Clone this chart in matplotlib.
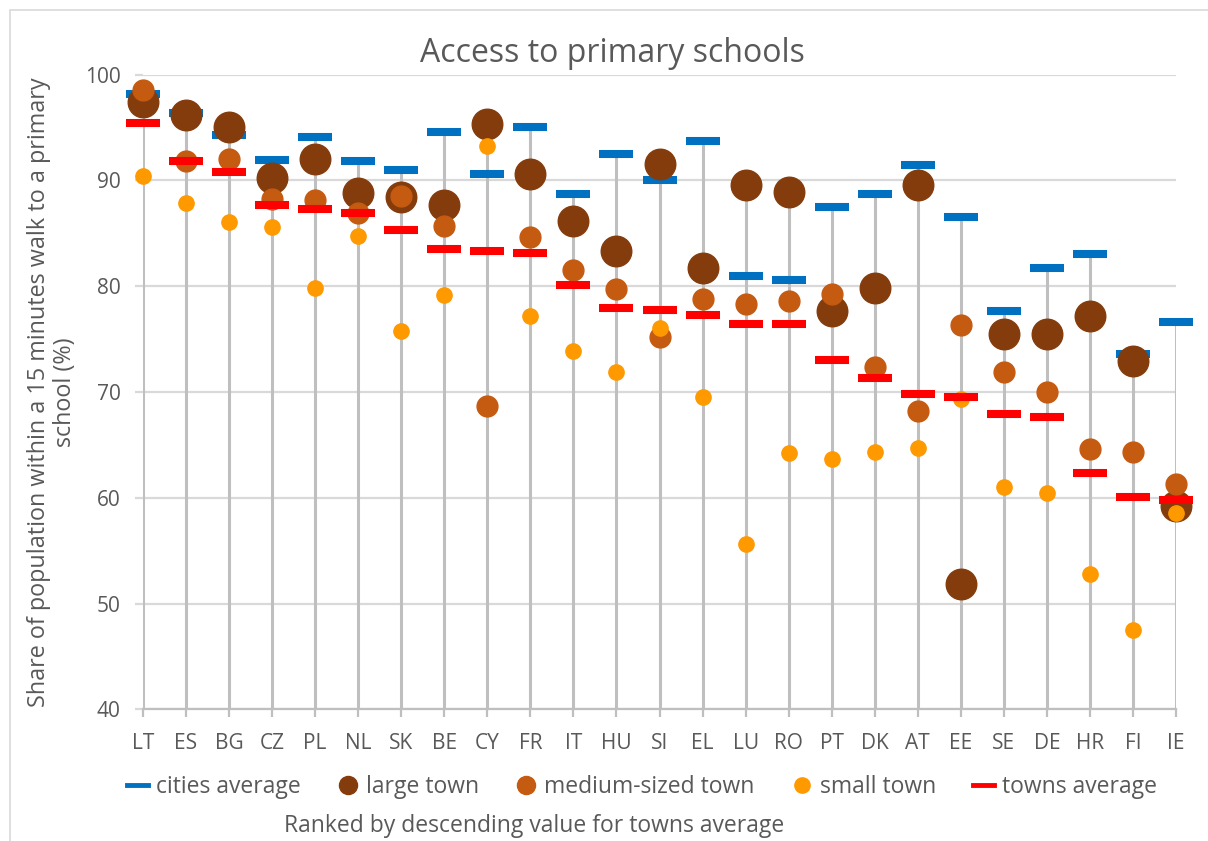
import numpy as np
import matplotlib
matplotlib.use("Agg")
import matplotlib.pyplot as plt
from matplotlib.lines import Line2D
from matplotlib.patches import Rectangle

plt.rcParams['font.family'] = ['Open Sans', 'DejaVu Sans']

countries = ["LT", "ES", "BG", "CZ", "PL", "NL", "SK", "BE", "CY", "FR", "IT", "HU", "SI",
             "EL", "LU", "RO", "PT", "DK", "AT", "EE", "SE", "DE", "HR", "FI", "IE"]

cities_avg = [98.2, 96.4, 94.3, 91.9, 94.1, 91.8, 91.0, 94.6, 90.6, 95.0, 88.7, 92.5, 90.0,
              93.7, 81.0, 80.6, 87.5, 88.7, 91.4, 86.5, 77.6, 81.7, 83.0, 73.6, 76.6]
large_town = [97.4, 96.2, 95.0, 90.2, 92.0, 88.8, 88.4, 87.7, 95.3, 90.6, 86.2, 83.3, 91.5,
              81.7, 89.6, 88.9, 77.6, 79.8, 89.6, 51.8, 75.5, 75.5, 77.2, 72.9, 59.2]
medium_town = [98.5, 91.8, 92.0, 88.2, 88.1, 86.9, 88.5, 85.7, 68.7, 84.6, 81.5, 79.7, 75.2,
               78.8, 78.3, 78.6, 79.3, 72.4, 68.2, 76.3, 71.9, 70.0, 64.6, 64.3, 61.3]
small_town = [90.4, 87.9, 86.1, 85.6, 79.8, 84.7, 75.8, 79.2, 93.2, 77.2, 73.9, 71.9, 76.0,
              69.5, 55.6, 64.2, 63.7, 64.3, 64.7, 69.3, 61.0, 60.4, 52.8, 47.5, 58.6]
towns_avg = [95.4, 91.8, 90.8, 87.7, 87.3, 86.9, 85.3, 83.5, 83.3, 83.1, 80.1, 77.9, 77.7,
             77.3, 76.4, 76.4, 73.0, 71.3, 69.8, 69.5, 67.9, 67.6, 62.3, 60.1, 59.8]

C_BLUE = "#0070C0"
C_LARGE = "#843C0C"
C_MED = "#C55A11"
C_SMALL = "#FF9900"
C_RED = "#FF0000"
GRID = "#D9D9D9"
TXT = "#595959"

fig = plt.figure(figsize=(12.08, 8.41), dpi=100)
ax = fig.add_axes([143 / 1208, 1 - 709.3 / 841, (1176 - 143) / 1208, (709.3 - 74.5) / 841])

# thin frame around the whole chart area
fig.patches.append(Rectangle((10 / 1208, -0.05), 1.1, 1 - 10 / 841 + 0.05,
                             transform=fig.transFigure, fill=False,
                             edgecolor=GRID, linewidth=1.2))

x = np.arange(len(countries))
all_vals = np.vstack([cities_avg, large_town, medium_town, small_town, towns_avg])
top = all_vals.max(axis=0)

# drop lines
ax.vlines(x, 40, top, color="#BFBFBF", linewidth=2.2, zorder=2)

ax.plot(x, cities_avg, linestyle="none", marker="_", markersize=24, mew=5.8,
        color=C_BLUE, zorder=3, clip_on=False)
ax.plot(x, large_town, linestyle="none", marker="o", markersize=22,
        color=C_LARGE, mec=C_LARGE, zorder=4, clip_on=False)
ax.plot(x, medium_town, linestyle="none", marker="o", markersize=15,
        color=C_MED, mec=C_MED, zorder=5, clip_on=False)
ax.plot(x, small_town, linestyle="none", marker="o", markersize=11,
        color=C_SMALL, mec=C_SMALL, zorder=6, clip_on=False)
ax.plot(x, towns_avg, linestyle="none", marker="_", markersize=24, mew=5.8,
        color=C_RED, zorder=7, clip_on=False)

ax.set_xlim(0, len(countries) - 1)
ax.set_ylim(40, 100)
ax.set_xticks(x)
ax.set_xticklabels(countries)
ax.set_yticks(np.arange(40, 101, 10))
ax.yaxis.grid(True, color=GRID, linewidth=1.6)
ax.set_axisbelow(True)
for side in ["top", "right", "left"]:
    ax.spines[side].set_visible(False)
ax.spines["bottom"].set_color("#BFBFBF")
ax.spines["bottom"].set_linewidth(1.6)
ax.tick_params(axis="x", colors="#BFBFBF", labelcolor=TXT, labelsize=15,
               length=6, width=1.6, pad=11)
ax.tick_params(axis="y", colors=GRID, labelcolor=TXT, labelsize=15,
               length=6, width=1.6, pad=10)

ax.set_ylabel("Share of population within a 15 minutes walk to a primary\nschool (%)",
              fontsize=16.8, color=TXT, linespacing=1.1)
ax.yaxis.set_label_coords(-0.064, 0.5)
fig.text(612 / 1208, 1 - 53 / 841, "Access to primary schools", fontsize=23,
         color=TXT, ha="center", va="center")
fig.text(534 / 1208, 1 - 826 / 841, "Ranked by descending value for towns average",
         fontsize=16.5, color=TXT, ha="center", va="center")

handles = [
    Line2D([], [], color=C_BLUE, linewidth=3.5),
    Line2D([], [], linestyle="none", marker="o", markersize=13, color=C_LARGE),
    Line2D([], [], linestyle="none", marker="o", markersize=13, color=C_MED),
    Line2D([], [], linestyle="none", marker="o", markersize=11, color=C_SMALL),
    Line2D([], [], color=C_RED, linewidth=3.5),
]
labels = ["cities average", "large town", "medium-sized town", "small town", "towns average"]
fig.legend(handles, labels, loc="center", bbox_to_anchor=(642 / 1208, 1 - 787 / 841),
           ncol=5, frameon=False, fontsize=16.5, labelcolor=TXT, handlelength=0.9,
           handletextpad=0.35, columnspacing=1.6)

fig.savefig("out.png", dpi=100)
